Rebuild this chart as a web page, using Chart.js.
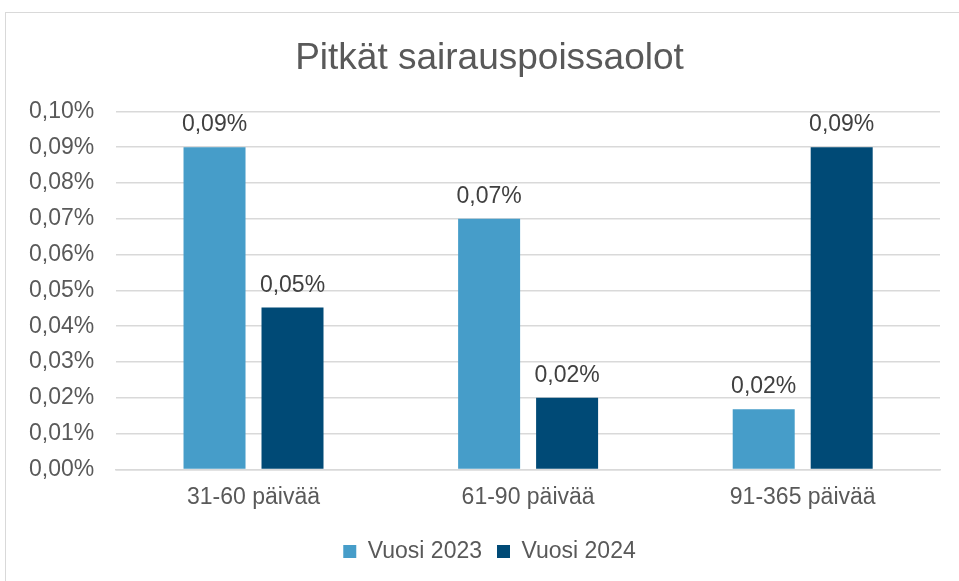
<!DOCTYPE html>
<html>
<head>
<meta charset="utf-8">
<script src="https://cdn.jsdelivr.net/npm/chart.js@4/dist/chart.umd.min.js"></script>
<style>
body{margin:0;background:#fff;}
#wrap{position:relative;width:959px;height:581px;overflow:hidden;}
#frame{position:absolute;left:5px;top:12px;width:980px;height:600px;border:1px solid #d9d9d9;}
#c{position:absolute;left:0;top:0;}
</style>
</head>
<body>
<div id="wrap">
<div id="frame"></div>
<canvas id="c" width="959" height="581"></canvas>
</div>
<script>
const categories=['31-60 päivää','61-90 päivää','91-365 päivää'];
const vuosi2023=[0.09,0.07,0.0168];
const vuosi2024=[0.0452,0.02,0.09];
const seriesNames=['Vuosi 2023','Vuosi 2024'];

const grey='#595959';
const fontFam='"Liberation Sans", Arial, sans-serif';

function pct(v){
return v.toFixed(2).replace('.',',')+'%';
}

// value labels above the bars
const barLabels={
id:'barLabels',
afterDatasetsDraw(chart){
const ctx=chart.ctx;
ctx.save();
ctx.font='23px '+fontFam;
ctx.fillStyle='#404040';
ctx.textAlign='center';
ctx.textBaseline='alphabetic';
chart.data.datasets.forEach((ds,i)=>{
chart.getDatasetMeta(i).data.forEach((bar,j)=>{
ctx.fillText(pct(ds.data[j]),bar.x,bar.y-16);
});
});
ctx.restore();
}
};

// the original centres title and legend a bit right of the canvas middle
const nudge={
id:'nudge',
afterLayout(chart){
[chart.titleBlock,chart.legend].forEach(b=>{
if(b){b.left+=16;b.right+=16;}
});
}
};

new Chart(document.getElementById('c'),{
type:'bar',
data:{
labels:categories,
datasets:[{
label:seriesNames[0],
data:vuosi2023,
backgroundColor:'#469dc9',
borderWidth:0
},{
label:seriesNames[1],
data:vuosi2024,
backgroundColor:'#004a76',
borderWidth:0
}]
},
options:{
responsive:false,
animation:false,
layout:{padding:{left:7,right:19,top:20,bottom:8}},
categoryPercentage:0.568,
barPercentage:0.795,
plugins:{
title:{
display:true,
text:'Pitkät sairauspoissaolot',
color:grey,
font:{family:fontFam,size:37,weight:'normal'},
padding:{top:17,bottom:30}
},
legend:{
position:'bottom',
labels:{
color:grey,
font:{family:fontFam,size:23},
boxWidth:13,
boxHeight:13,
padding:15
}
},
tooltip:{enabled:false}
},
scales:{
x:{
grid:{display:false,drawTicks:false},
border:{color:'#d9d9d9',width:1.5},
ticks:{color:grey,font:{family:fontFam,size:23},padding:14}
},
y:{
min:0,
max:0.1,
grid:{color:'#d9d9d9',lineWidth:1.5,drawTicks:false},
border:{display:false},
ticks:{
stepSize:0.01,
color:grey,
font:{family:fontFam,size:23},
padding:22,
callback:v=>pct(v)
}
}
}
},
plugins:[barLabels,nudge]
});
</script>
</body>
</html>
